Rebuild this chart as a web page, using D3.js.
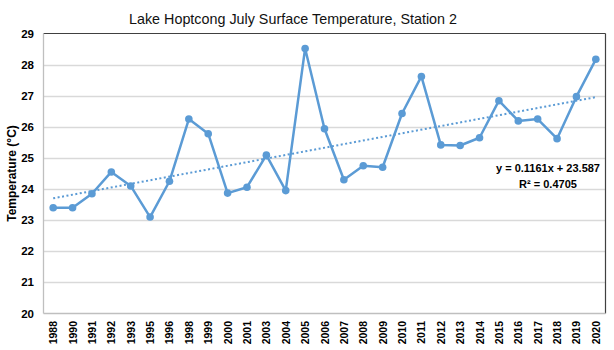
<!DOCTYPE html>
<html>
<head>
<meta charset="utf-8">
<script src="https://cdn.jsdelivr.net/npm/d3@7"></script>
<style>
  body { margin: 0; background: #fff; }
  svg { font-family: "Liberation Sans", Arial, sans-serif; }
</style>
</head>
<body>
<svg id="chart" width="614" height="350"></svg>
<script>
// Data
const years = ['1988','1990','1991','1992','1993','1995','1996','1998','1999','2000',
  '2001','2003','2004','2005','2006','2007','2008','2009','2010','2011',
  '2012','2013','2014','2015','2016','2017','2018','2019','2020'];
const temps = [23.4, 23.4, 23.85, 24.55, 24.1, 23.1, 24.25, 26.25, 25.78, 23.87,
  24.06, 25.09, 23.95, 28.52, 25.94, 24.3, 24.75, 24.7, 26.43, 27.62,
  25.42, 25.4, 25.65, 26.84, 26.19, 26.25, 25.62, 26.97, 28.17];
const yTicks = [20, 21, 22, 23, 24, 25, 26, 27, 28, 29];
// linear trend as printed on the chart (x = point index starting at 1)
const trendSlope = 0.1161;
const trendIntercept = 23.587;
const trendLabel = ['y = 0.1161x + 23.587', 'R² = 0.4705'];

const svg = d3.select('#chart');
const margin = { left: 43.5, right: 605.5, top: 33.5, bottom: 313.5 };
const blue = '#5b9bd5';

const x = d3.scalePoint()
    .domain(years)
    .range([margin.left, margin.right])
    .padding(0.5);

const y = d3.scaleLinear()
    .domain([20, 29])
    .range([margin.bottom, margin.top]);

// Gridlines
svg.append('g')
  .selectAll('line')
  .data(yTicks.filter(d => d > 20 && d < 29))
  .join('line')
    .attr('x1', margin.left)
    .attr('x2', margin.right)
    .attr('y1', d => Math.round(y(d)) + 0.5)
    .attr('y2', d => Math.round(y(d)) + 0.5)
    .attr('stroke', '#d9d9d9')
    .attr('stroke-width', 1.3);

// Box: dark top and right, gray left and bottom axes
svg.append('line')
    .attr('x1', margin.left).attr('x2', margin.right)
    .attr('y1', margin.top).attr('y2', margin.top)
    .attr('stroke', '#404040').attr('stroke-width', 1.2);
svg.append('line')
    .attr('x1', margin.right).attr('x2', margin.right)
    .attr('y1', margin.top).attr('y2', margin.bottom)
    .attr('stroke', '#404040').attr('stroke-width', 1.2);
svg.append('line')
    .attr('x1', margin.left).attr('x2', margin.left)
    .attr('y1', margin.top).attr('y2', margin.bottom)
    .attr('stroke', '#bfbfbf').attr('stroke-width', 1.3);
svg.append('line')
    .attr('x1', margin.left).attr('x2', margin.right)
    .attr('y1', margin.bottom).attr('y2', margin.bottom)
    .attr('stroke', '#bfbfbf').attr('stroke-width', 1.3);

// Y tick labels
svg.append('g')
  .selectAll('text')
  .data(yTicks)
  .join('text')
    .attr('x', 34)
    .attr('y', d => y(d) + 4)
    .attr('text-anchor', 'end')
    .attr('font-size', 11.5)
    .attr('font-weight', 'bold')
    .text(d => d);

// X tick labels (rotated)
svg.append('g')
  .selectAll('text')
  .data(years)
  .join('text')
    .attr('transform', d => `translate(${x(d) + 4},321) rotate(-90)`)
    .attr('text-anchor', 'end')
    .attr('font-size', 10.5)
    .attr('font-weight', 'bold')
    .text(d => d);

// Axis title
svg.append('text')
    .attr('transform', `translate(16,${(margin.top + margin.bottom) / 2}) rotate(-90)`)
    .attr('text-anchor', 'middle')
    .attr('font-size', 12)
    .attr('font-weight', 'bold')
    .text('Temperature (°C)');

// Chart title
svg.append('text')
    .attr('x', 293)
    .attr('y', 24)
    .attr('text-anchor', 'middle')
    .attr('font-size', 15)
    .attr('textLength', 328)
    .attr('lengthAdjust', 'spacingAndGlyphs')
    .attr('fill', '#111')
    .text('Lake Hoptcong July Surface Temperature, Station 2');

// Trend line
const trendPts = [1, years.length].map(i => ({
  yr: years[i - 1], v: trendSlope * i + trendIntercept
}));
svg.append('line')
    .attr('x1', x(trendPts[0].yr)).attr('y1', y(trendPts[0].v))
    .attr('x2', x(trendPts[1].yr)).attr('y2', y(trendPts[1].v))
    .attr('stroke', blue)
    .attr('stroke-width', 2)
    .attr('stroke-dasharray', '2,2.5');

// Data line
const line = d3.line()
    .x((d, i) => x(years[i]))
    .y(d => y(d));
svg.append('path')
    .datum(temps)
    .attr('d', line)
    .attr('fill', 'none')
    .attr('stroke', blue)
    .attr('stroke-width', 2.5)
    .attr('stroke-linejoin', 'round');

// Markers
svg.append('g')
  .selectAll('circle')
  .data(temps)
  .join('circle')
    .attr('cx', (d, i) => x(years[i]))
    .attr('cy', d => y(d))
    .attr('r', 3.8)
    .attr('fill', blue);

// Trend equation
svg.append('g')
  .selectAll('text')
  .data(trendLabel)
  .join('text')
    .attr('x', 548)
    .attr('y', (d, i) => 172 + i * 16)
    .attr('text-anchor', 'middle')
    .attr('font-size', 11)
    .attr('font-weight', 'bold')
    .text(d => d);
</script>
</body>
</html>
